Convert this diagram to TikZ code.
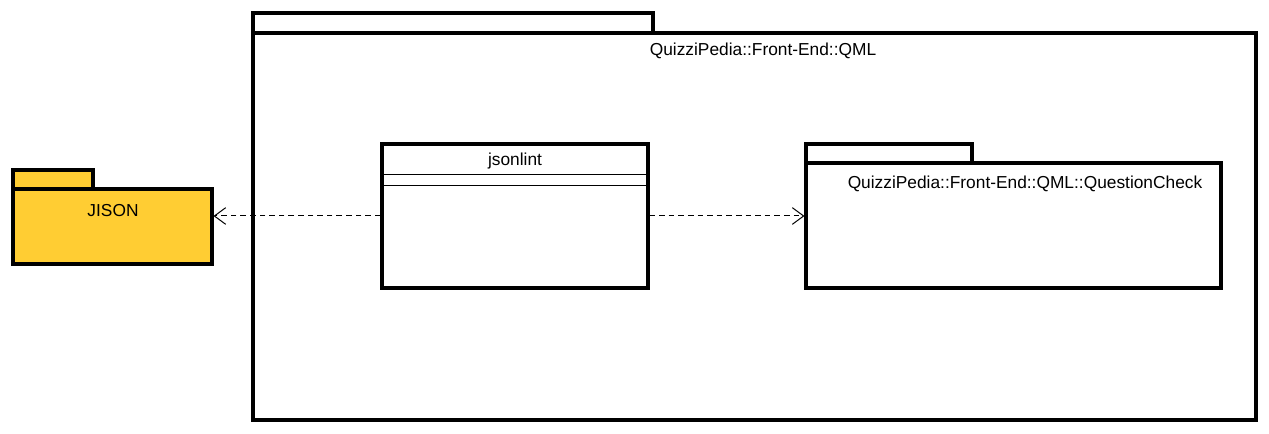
\documentclass[tikz,border=0pt]{standalone}
\usepackage{fontspec}
\setmainfont{Liberation Sans}
\usetikzlibrary{arrows.meta,calc}
\definecolor{pkgyellow}{HTML}{FFCD33}
\def\u{0.75pt}
\tikzset{
  box/.style={draw=black, line width=2.3pt, fill=#1, rectangle, inner sep=0pt},
  box/.default=white,
  lbl/.style={font=\fontsize{13}{15}\selectfont, inner sep=0pt, anchor=center},
  thinline/.style={draw=black, line width=0.75pt},
  dep/.style={draw=black, line width=0.75pt, dash pattern=on 4.2pt off 3pt,
    -{Straight Barb[length=8.5pt,width=12.5pt,line width=0.75pt]}},
}
\begin{document}
\begin{tikzpicture}[x=0.75pt,y=-0.75pt]
\useasboundingbox (0,0) rectangle (1269,434);
% outer package
\node[box, minimum width=400*\u, minimum height=20*\u] (outtab) at (453,23) {};
\node[box, minimum width=1003*\u, minimum height=387*\u] (outer) at (754.5,226.5) {};
\node[lbl] (outerlbl) at (763,51) {QuizziPedia::Front-End::QML};
% JISON package
\node[box=pkgyellow, minimum width=80*\u, minimum height=19*\u] (jtab) at (53,179.5) {};
\node[box=pkgyellow, minimum width=199*\u, minimum height=75*\u] (jison) at (112.5,226.5) {};
\node[lbl] (jisonlbl) at (113,211) {JISON};
% jsonlint class
\node[box, minimum width=266*\u, minimum height=144*\u] (jl) at (515,216) {};
\node[lbl] (jllbl) at (515,161) {jsonlint};
\draw[thinline] ($(jl.north west)+(0,32)$) coordinate (c1a) -- ($(jl.north east)+(0,32)$) coordinate (c1b);
\draw[thinline] ($(jl.north west)+(0,43)$) coordinate (c2a) -- ($(jl.north east)+(0,43)$) coordinate (c2b);
% QuestionCheck package
\node[box, minimum width=166*\u, minimum height=19*\u] (qtab) at (889,153.5) {};
\node[box, minimum width=415*\u, minimum height=125*\u] (qc) at (1013.5,225.5) {};
\node[lbl] (qclbl) at (1025,184) {QuizziPedia::Front-End::QML::QuestionCheck};
% dependencies
\draw[dep] (jl.west) -- (jl.west -| jison.east);
\draw[dep] (jl.east) -- (jl.east -| qc.west);
\end{tikzpicture}
\end{document}
